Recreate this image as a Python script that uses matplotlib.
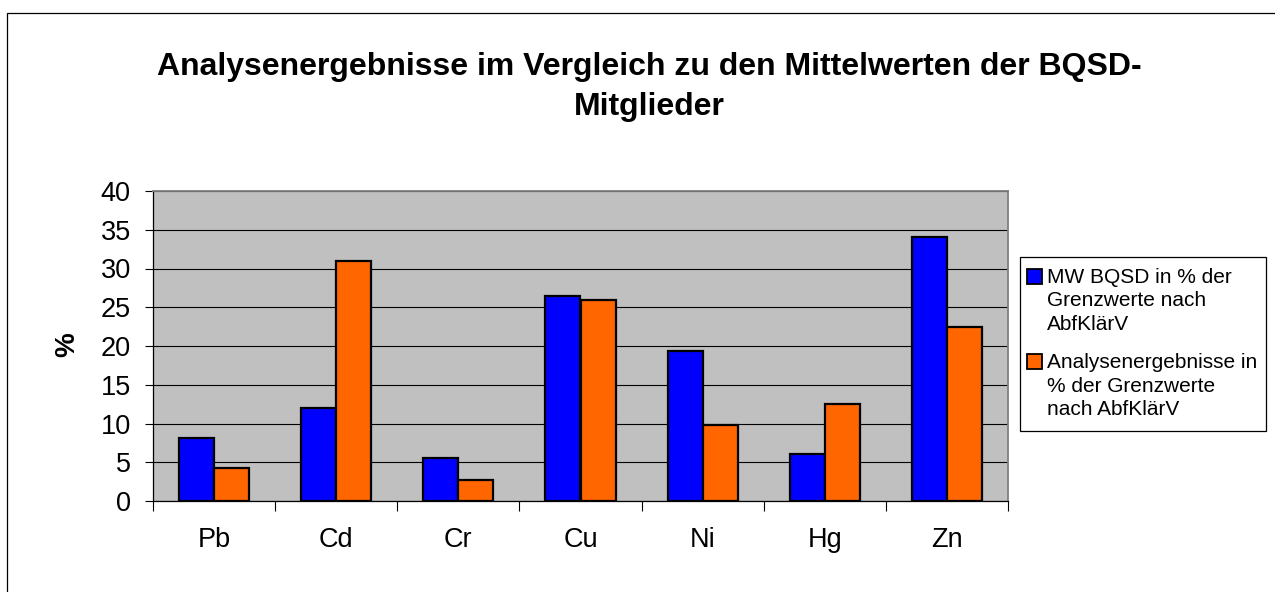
import matplotlib
matplotlib.use("Agg")
import matplotlib.pyplot as plt
import numpy as np
from matplotlib.patches import Rectangle

plt.rcParams['font.family'] = ['Liberation Sans', 'DejaVu Sans']

categories = ["Pb", "Cd", "Cr", "Cu", "Ni", "Hg", "Zn"]
mw_bqsd = [8.1, 12.0, 5.6, 26.5, 19.3, 6.1, 34.1]
analyse = [4.2, 31.0, 2.7, 26.0, 9.8, 12.5, 22.5]
series_names = ["MW BQSD in % der\nGrenzwerte nach\nAbfKlärV",
                "Analysenergebnisse in\n% der Grenzwerte\nnach AbfKlärV"]
series_colors = ["#0000ff", "#ff6600"]
title_lines = ["Analysenergebnisse im Vergleich zu den Mittelwerten der BQSD-",
               "Mitglieder"]
yticks = [0, 5, 10, 15, 20, 25, 30, 35, 40]

W, H = 1275, 592
fig = plt.figure(figsize=(W / 100, H / 100), dpi=100)
fig.patch.set_facecolor("white")


def fx(px):
    return px / W


def fy(py):
    return 1 - py / H


# outer chart border (only left & top visible)
fig.add_artist(Rectangle((fx(7), -0.1), 1.2, fy(13) + 0.1, transform=fig.transFigure,
                         fill=False, edgecolor="black", linewidth=0.9))

ax = fig.add_axes([fx(153), fy(501), fx(1008 - 153), (501 - 191) / H])
ax.set_facecolor("#c0c0c0")

x = np.arange(len(categories))
w = 0.287
ax.bar(x - w / 2, mw_bqsd, w, color=series_colors[0], edgecolor="black", linewidth=1.6,
       zorder=3)
ax.bar(x + w / 2, analyse, w, color=series_colors[1], edgecolor="black", linewidth=1.6,
       zorder=3)

ax.set_xlim(-0.5, len(categories) - 0.5)
ax.set_ylim(0, 40)
ax.set_yticks(yticks)
ax.set_yticklabels([str(v) for v in yticks], fontsize=19.5)
ax.yaxis.grid(True, color="black", linewidth=0.8, zorder=1)
ax.set_axisbelow(True)

ax.set_xticks(np.arange(len(categories) + 1) - 0.5)
ax.set_xticklabels([])
ax.set_xticks(x, minor=True)
ax.set_xticklabels(categories, minor=True, fontsize=19.5)
ax.tick_params(axis="x", which="major", direction="out", length=7, width=0.8, color="black")
ax.tick_params(axis="x", which="minor", length=0, pad=19)
ax.tick_params(axis="y", direction="out", length=6, width=0.8, pad=10)

for s in ["top", "right"]:
    ax.spines[s].set_color("#808080")
    ax.spines[s].set_linewidth(1.3)
for s in ["left", "bottom"]:
    ax.spines[s].set_color("black")
    ax.spines[s].set_linewidth(0.9)

fig.text(fx(67), fy(345), "%", rotation=90, ha="center", va="center",
         fontsize=20, fontweight="bold")

fig.text(fx(649), fy(75), title_lines[0], ha="center", va="baseline", fontsize=23,
         fontweight="bold")
fig.text(fx(649), fy(115), title_lines[1], ha="center", va="baseline", fontsize=23,
         fontweight="bold")

# legend drawn manually (square marker aligned with the first text line)
fig.add_artist(Rectangle((fx(1020), fy(431)), fx(1266 - 1020), (431 - 257) / H,
                         transform=fig.transFigure, facecolor="white",
                         edgecolor="black", linewidth=0.9))
first_baselines = [283, 368]
line_step = 23.5
for name, col, base in zip(series_names, series_colors, first_baselines):
    fig.add_artist(Rectangle((fx(1027), fy(base + 1)), fx(15), 15 / H,
                             transform=fig.transFigure, facecolor=col,
                             edgecolor="black", linewidth=1.3))
    for i, line in enumerate(name.split("\n")):
        fig.text(fx(1047), fy(base + i * line_step), line, ha="left", va="baseline",
                 fontsize=15)

fig.savefig("out.png", dpi=100)
